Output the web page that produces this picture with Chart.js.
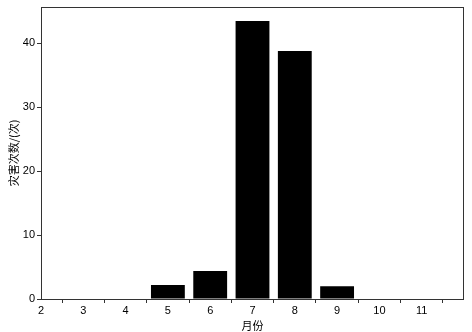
<!DOCTYPE html>
<html>
<head>
<meta charset="utf-8">
<script src="https://cdn.jsdelivr.net/npm/chart.js@4"></script>
<style>
  html, body { margin: 0; padding: 0; background: #fff; }
  #wrap { width: 472px; height: 332px; }
</style>
</head>
<body>
<div id="wrap"><canvas id="chart"></canvas></div>
<script>
// disaster counts per month
var months = [5, 6, 7, 8, 9];
var counts = [2.2, 4.4, 43.5, 38.8, 2.0];
var xTicks = [2, 3, 4, 5, 6, 7, 8, 9, 10, 11];
var yTicks = [0, 10, 20, 30, 40];

var tickFont = { family: "'Liberation Sans', Arial, sans-serif", size: 11 };
var titleFont = { family: "'Noto Sans CJK SC', sans-serif", size: 11 };

// box around the plot area like matplotlib spines
var frame = {
  id: 'frame',
  afterDraw: function(chart) {
    var a = chart.chartArea, ctx = chart.ctx;
    ctx.save();
    ctx.strokeStyle = '#333';
    ctx.lineWidth = 1;
    ctx.strokeRect(Math.round(a.left) + 0.5, Math.round(a.top) + 0.5,
                   Math.round(a.right - a.left) - 1, Math.round(a.bottom - a.top));
    ctx.restore();
  }
};

new Chart(document.getElementById('chart'), {
  type: 'bar',
  data: {
    datasets: [{
      data: months.map(function(m, i) { return { x: m, y: counts[i] }; }),
      backgroundColor: '#000',
      borderWidth: 0,
      categoryPercentage: 0.8,
      barPercentage: 1.0
    }]
  },
  plugins: [frame],
  options: {
    responsive: true,
    maintainAspectRatio: false,
    animation: false,
    layout: { padding: { top: 7, right: 8, left: 0, bottom: 0 } },
    plugins: { legend: { display: false }, tooltip: { enabled: false } },
    scales: {
      x: {
        type: 'linear',
        min: 2,
        max: 12,
        offset: false,
        border: { display: false },
        grid: { drawOnChartArea: false, drawTicks: true, tickLength: 4, color: '#333' },
        ticks: { stepSize: 1, color: '#000', font: tickFont, padding: 1, maxRotation: 0 },
        afterBuildTicks: function(scale) {
          scale.ticks = xTicks.map(function(v) { return { value: v }; });
        },
        afterFit: function(scale) {
          scale.height = 33;
          scale.paddingLeft = 0;
          scale.paddingRight = 0;
        },
        title: { display: true, text: '月份', color: '#000', font: titleFont, padding: { top: 0, bottom: 0 } }
      },
      y: {
        min: 0,
        max: 45.7,
        border: { display: false },
        grid: { drawOnChartArea: false, drawTicks: true, tickLength: 4, color: '#333' },
        ticks: { color: '#000', font: tickFont, padding: 2 },
        afterBuildTicks: function(scale) {
          scale.ticks = yTicks.map(function(v) { return { value: v }; });
        },
        afterFit: function(scale) {
          scale.width = 41;
          scale.paddingTop = 0;
          scale.paddingBottom = 0;
        },
        title: { display: true, text: '灾害次数/(次)', color: '#000', font: titleFont, padding: { top: 7, bottom: 2 } }
      }
    }
  }
});
</script>
</body>
</html>
